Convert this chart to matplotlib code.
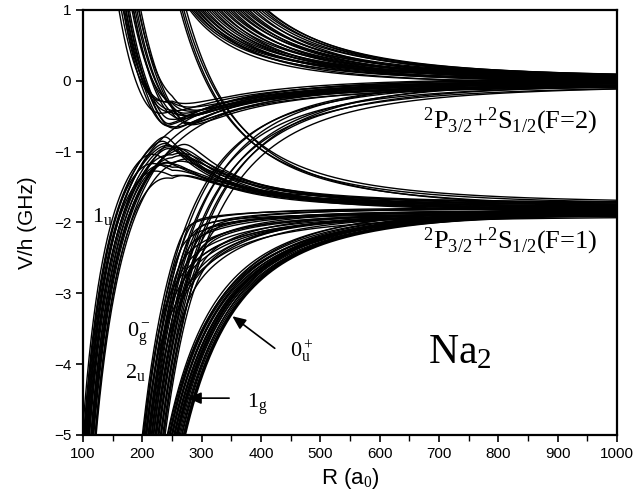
import numpy as np
import matplotlib
matplotlib.use("Agg")
import matplotlib.pyplot as plt
from matplotlib.ticker import MultipleLocator

plt.rcParams['mathtext.fontset'] = 'custom'
plt.rcParams['mathtext.rm'] = 'Liberation Serif'
plt.rcParams['mathtext.it'] = 'Liberation Serif:italic'

# ---- data ----
# 1_u bundle: attractive curves (to F=2 limit) crossing V=-5 at R, coupled to
# repulsive curves (to F=1 limit) that reach V=+1 at R
u1_R5 = [99, 101, 102, 104, 105, 107, 108, 110, 111, 113, 115, 116, 118, 120, 122, 103, 109, 117]
u1_E = [0.02, -0.05, 0.06, -0.06, 0.0, 0.05, -0.04, 0.06, -0.03, 0.04, -0.06, 0.03, -0.02, 0.05, -0.04, 0.01, -0.01, 0.02]
u1_R1 = [160, 172, 163, 185, 166, 178, 169, 190, 175, 181, 194, 187, 197, 171, 184, 176, 192, 168]
u1_Ef = [-1.75, -1.8, -1.72, -1.85, -1.78, -1.82, -1.76, -1.84, -1.79, -1.74, -1.83, -1.77, -1.80, -1.81, -1.73, -1.78, -1.76, -1.82]
u1_W = [0.30, 0.12, 0.45, 0.22, 0.50, 0.18, 0.38, 0.28, 0.15, 0.42, 0.25, 0.35, 0.20, 0.48, 0.32, 0.10, 0.40, 0.26]
# 1_u curves that run straight up to the F=2 limit
u1free_R5 = [106, 114, 121]

# 0_g^- / 2_u bundle: crossing V=-5 at R, bending onto the F=1 limit from below
mid_R5 = [200, 201, 203, 204, 206, 207, 209, 210, 212, 213, 215, 216, 218, 219, 221, 222, 224,
          226, 228, 230, 232, 234, 236, 238]
mid_R5b = [110, 170, 130, 185, 100, 150, 175, 120, 160, 140, 190, 105, 165, 135, 180, 115, 155,
           145, 125, 195, 150, 170, 120, 185]
mid_Ef = [-1.78, -1.86, -1.82, -1.88, -1.80, -1.84, -1.85, -1.79, -1.87, -1.83, -1.78, -1.86, -1.88,
          -1.81, -1.84, -1.87, -1.80, -1.85, -1.79, -1.83, -1.86, -1.81, -1.84, -1.82]
mid_W = [0.12, 0.20, 0.15, 0.25, 0.10, 0.18, 0.22, 0.14, 0.16, 0.12, 0.28, 0.10, 0.20, 0.15, 0.24,
         0.11, 0.17, 0.19, 0.13, 0.22, 0.16, 0.21, 0.12, 0.18]
# curves of the same bundle that go straight up to the F=2 limit
midfree_R5 = [203, 207, 211, 215, 219, 223, 227, 231, 236]
midfree_E = [0.0, 0.04, -0.04, 0.06, -0.06, 0.02, -0.02, 0.05, -0.05]

# 1_g / 0_u^+ bundle: attractive onto the F=1 limit
g1_R5 = [242, 243, 245, 246, 247, 249, 250, 251, 253, 254, 255, 258, 259, 260, 262, 264, 266, 267, 270, 271]
g1_E = [-1.76, -1.84, -1.78, -1.82, -1.74, -1.80, -1.83, -1.77, -1.85, -1.79, -1.81, -1.80, -1.76,
        -1.83, -1.78, -1.82, -1.75, -1.80, -1.79, -1.80]
g1_lw = [1.0, 1.0, 1.0, 1.0, 1.0, 1.0, 1.0, 1.0, 1.0, 1.0, 1.0, 2.0, 1.0, 1.0, 1.0, 1.0, 1.0, 1.0, 1.4, 2.4]

# repulsive curves onto the F=2 limit, reaching V=+1 at R
top_R1 = [280, 283, 286, 289, 292, 295, 298, 301, 304, 308, 312, 316, 320, 324, 328, 332, 336,
          340, 344, 348, 352, 356, 360, 364, 368, 372, 376, 380, 385, 390, 395, 400, 405, 409, 411]
top_E = [-0.05, 0.0, 0.04, -0.02, 0.03, -0.06, 0.02, -0.01, 0.04, -0.04, 0.01, 0.03, -0.03, 0.0,
         0.04, -0.05, 0.02, -0.02, 0.03, 0.0, -0.04, 0.04, -0.01, 0.02, -0.03, 0.03, 0.0, -0.02,
         0.04, -0.04, 0.01, 0.03, -0.01, 0.02, 0.0]

# repulsive curves crossing down onto the F=1 limit
cross_R1 = [264, 267, 270, 274]
cross_E = [-1.76, -1.80, -1.74, -1.82]

xticks = [100, 200, 300, 400, 500, 600, 700, 800, 900, 1000]
yticks = [-5, -4, -3, -2, -1, 0, 1]

# ---- drawing ----
fig = plt.figure(figsize=(6.36, 4.99), dpi=100)
ax = fig.add_axes([0.1305, 0.1283, 0.8395, 0.8517])

R = np.linspace(92, 1000, 3000)
lw = 1.0
col = 'black'


def cn(E, Rref, Vref, n=3.0):
    return E + (Vref - E) * (Rref / R) ** n


def adiab(d1, d2, W):
    m = 0.5 * (d1 + d2)
    h = np.sqrt((0.5 * (d1 - d2)) ** 2 + W ** 2)
    return m - h, m + h


for r5, e, r1, ef, w in zip(u1_R5, u1_E, u1_R1, u1_Ef, u1_W):
    wr = w * np.minimum(1.0, (250.0 / R) ** 3)
    lo, hi = adiab(cn(e, r5, -5.0, 2.3), cn(ef, r1, 1.0), wr)
    ax.plot(R, lo, color=col, lw=lw)
    ax.plot(R, hi, color=col, lw=lw)

for r5 in u1free_R5:
    ax.plot(R, cn(0.0, r5, -5.0, 2.3), color=col, lw=lw)

for r5, r5b, ef, w in zip(mid_R5, mid_R5b, mid_Ef, mid_W):
    lo, hi = adiab(cn(0.0, r5, -5.0), cn(ef, r5b, -5.0), w)
    ax.plot(R, lo, color=col, lw=lw)

for r5, e in zip(midfree_R5, midfree_E):
    ax.plot(R, cn(e, r5, -5.0), color=col, lw=lw)

for r5, e, l in zip(g1_R5, g1_E, g1_lw):
    ax.plot(R, cn(e, r5, -5.0), color=col, lw=l)

for r1, e in zip(top_R1, top_E):
    ax.plot(R, cn(e, r1, 1.0), color=col, lw=lw)

for r1, e in zip(cross_R1, cross_E):
    ax.plot(R, cn(e, r1, 1.0), color=col, lw=lw)

ax.set_xlim(100, 1000)
ax.set_ylim(-5, 1)
ax.set_xticks(xticks)
ax.set_yticks(yticks)
ax.xaxis.set_minor_locator(MultipleLocator(50))
ax.tick_params(which='major', length=5, width=1.2, labelsize=11, direction='out')
ax.tick_params(which='minor', length=4, width=1.0, direction='out')
for lab in ax.get_xticklabels() + ax.get_yticklabels():
    lab.set_fontfamily('Liberation Sans')
for s in ax.spines.values():
    s.set_linewidth(1.6)

ax.set_xlabel(r'R (a$_0$)', fontsize=16, family='Liberation Sans', labelpad=4)
ax.set_ylabel('V/h (GHz)', fontsize=15, family='Liberation Sans', labelpad=12)

tf = dict(family='Liberation Serif', color='black')
ax.text(820, -0.57, r'$^2$P$_{3/2}$+$^2$S$_{1/2}$(F=2)', fontsize=19, ha='center', va='center', **tf)
ax.text(820, -2.27, r'$^2$P$_{3/2}$+$^2$S$_{1/2}$(F=1)', fontsize=19, ha='center', va='center', **tf)
ax.text(735, -3.85, r'Na$_2$', fontsize=30, ha='center', va='center', **tf)
ax.text(116, -1.99, r'1$_\mathrm{u}$', fontsize=16, ha='left', va='baseline', **tf)
ax.text(174, -3.61, r'0$^-_\mathrm{g}$', fontsize=16, ha='left', va='baseline', **tf)
ax.text(171, -4.19, r'2$_\mathrm{u}$', fontsize=16, ha='left', va='baseline', **tf)
ax.text(376, -4.62, r'1$_\mathrm{g}$', fontsize=16, ha='left', va='baseline', **tf)
ax.text(449, -3.91, r'0$^+_\mathrm{u}$', fontsize=16, ha='left', va='baseline', **tf)

ap = dict(arrowstyle='-|>,head_length=0.8,head_width=0.35', color='black', lw=1.2)
ax.annotate('', xy=(272, -4.48), xytext=(351, -4.48), arrowprops=ap)
ax.annotate('', xy=(348, -3.30), xytext=(427, -3.80), arrowprops=ap)

fig.savefig('out.png', dpi=100)
